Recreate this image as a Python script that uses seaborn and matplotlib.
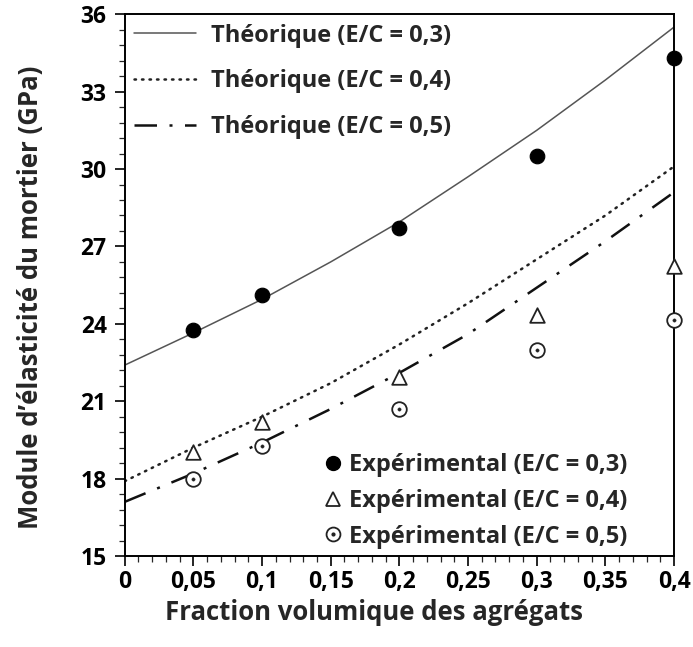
import matplotlib
matplotlib.use("Agg")
import matplotlib.pyplot as plt
from matplotlib.lines import Line2D
from matplotlib.ticker import MultipleLocator
import seaborn as sns
import pandas as pd

# ---- data ----
x_theo = [0, 0.05, 0.1, 0.15, 0.2, 0.25, 0.3, 0.35, 0.4]
theo_03 = [22.4, 23.65, 24.95, 26.4, 27.95, 29.7, 31.5, 33.45, 35.5]
theo_04 = [17.9, 19.2, 20.4, 21.7, 23.2, 24.8, 26.5, 28.2, 30.1]
theo_05 = [17.1, 18.2, 19.4, 20.7, 22.1, 23.6, 25.4, 27.2, 29.1]

x_exp = [0.05, 0.1, 0.2, 0.3, 0.4]
exp_03 = [23.75, 25.1, 27.7, 30.5, 34.3]
exp_04 = [19.05, 20.2, 21.95, 24.35, 26.25]
exp_05 = [18.0, 19.25, 20.7, 23.0, 24.15]

x_ticks = [0, 0.05, 0.1, 0.15, 0.2, 0.25, 0.3, 0.35, 0.4]
x_ticklabels = ["0", "0,05", "0,1", "0,15", "0,2", "0,25", "0,3", "0,35", "0,4"]
y_ticks = [15, 18, 21, 24, 27, 30, 33, 36]
y_ticklabels = ["15", "18", "21", "24", "27", "30", "33", "36"]

theo_labels = ["Théorique (E/C = 0,3)", "Théorique (E/C = 0,4)", "Théorique (E/C = 0,5)"]
exp_labels = ["Expérimental (E/C = 0,3)", "Expérimental (E/C = 0,4)", "Expérimental (E/C = 0,5)"]
xlabel = "Fraction volumique des agrégats"
ylabel = "Module d\u2019élasticité du mortier (GPa)"

sns.set_theme(style="ticks")
plt.rcParams['font.family'] = ['Open Sans', 'DejaVu Sans']
plt.rcParams['font.weight'] = 'bold'

fig = plt.figure(figsize=(6.93, 6.47), dpi=100)
ax = fig.add_axes([0.180, 0.1406, 0.7926, 0.8374])

df_t = pd.DataFrame({"x": x_theo, "a": theo_03, "b": theo_04, "c": theo_05})
sns.lineplot(data=df_t, x="x", y="a", ax=ax, color="#555555", lw=1.1)
sns.lineplot(data=df_t, x="x", y="b", ax=ax, color="#222222", lw=1.8,
             linestyle=(0, (0.6, 2.4)), dash_capstyle="round")
sns.lineplot(data=df_t, x="x", y="c", ax=ax, color="#111111", lw=1.8,
             linestyle=(0, (9, 5, 1.2, 5)))

df_e = pd.DataFrame({"x": x_exp, "a": exp_03, "b": exp_04, "c": exp_05})
sns.scatterplot(data=df_e, x="x", y="a", ax=ax, marker="o", s=110,
                color="black", edgecolor="black", zorder=5, clip_on=False)
sns.scatterplot(data=df_e, x="x", y="b", ax=ax, marker="^", s=110,
                facecolor="white", edgecolor="#222222", linewidth=1.3, zorder=5, clip_on=False)
sns.scatterplot(data=df_e, x="x", y="c", ax=ax, marker="o", s=110,
                facecolor="white", edgecolor="#222222", linewidth=1.3, zorder=5, clip_on=False)
sns.scatterplot(data=df_e, x="x", y="c", ax=ax, marker="o", s=6,
                color="#222222", edgecolor="#222222", zorder=6, clip_on=False)

ax.set_xlim(0, 0.4)
ax.set_ylim(15, 36)
ax.set_xticks(x_ticks)
ax.set_xticklabels(x_ticklabels)
ax.set_yticks(y_ticks)
ax.set_yticklabels(y_ticklabels)
ax.xaxis.set_minor_locator(MultipleLocator(0.01))
ax.yaxis.set_minor_locator(MultipleLocator(0.6))
ax.tick_params(axis="both", which="major", length=7, width=1.2, direction="out",
               labelsize=16.5, colors="black")
ax.tick_params(axis="x", which="major", pad=3)
ax.tick_params(axis="y", which="major", pad=6)
ax.tick_params(axis="both", which="minor", length=4, width=0.9, direction="out")
for lab in ax.get_xticklabels() + ax.get_yticklabels():
    lab.set_fontweight("bold")
for sp in ax.spines.values():
    sp.set_linewidth(1.4)
    sp.set_color("black")
    sp.set_visible(True)

ax.set_xlabel(xlabel, fontsize=18.5, fontweight="bold", labelpad=4)
ax.set_ylabel(ylabel, fontsize=18.5, fontweight="bold", labelpad=26)
ax.xaxis.label.set_x(0.4536)
ax.yaxis.label.set_y(0.478)

# legends
h_t = [Line2D([], [], color="#555555", lw=1.1),
       Line2D([], [], color="#222222", lw=1.8, linestyle=(0, (0.6, 2.4)), dash_capstyle="round"),
       Line2D([], [], color="#111111", lw=1.8, linestyle=(0, (9, 5, 1.2, 5)))]
leg1 = ax.legend(h_t, theo_labels, loc="upper left", frameon=False,
                 prop={"size": 17, "weight": "bold"}, handlelength=2.6,
                 handletextpad=0.65, labelspacing=0.92, borderaxespad=0.0,
                 bbox_to_anchor=(0.0, 1.0))
ax.add_artist(leg1)

h_e = [Line2D([], [], color="black", marker="o", markersize=10, ls=""),
       Line2D([], [], markerfacecolor="white", markeredgecolor="#222222", marker="^",
              markersize=10, ls="", markeredgewidth=1.3),
       (Line2D([], [], markerfacecolor="white", markeredgecolor="#222222", marker="o",
               markersize=10, ls="", markeredgewidth=1.3),
        Line2D([], [], color="#222222", marker="o", markersize=2, ls=""))]
ax.legend(h_e, exp_labels, loc="lower right", frameon=False,
          prop={"size": 17, "weight": "bold"}, handlelength=0.7,
          handletextpad=0.35, labelspacing=0.5, borderaxespad=0.0,
          bbox_to_anchor=(0.933, -0.004))

fig.savefig("out.png", dpi=100)
